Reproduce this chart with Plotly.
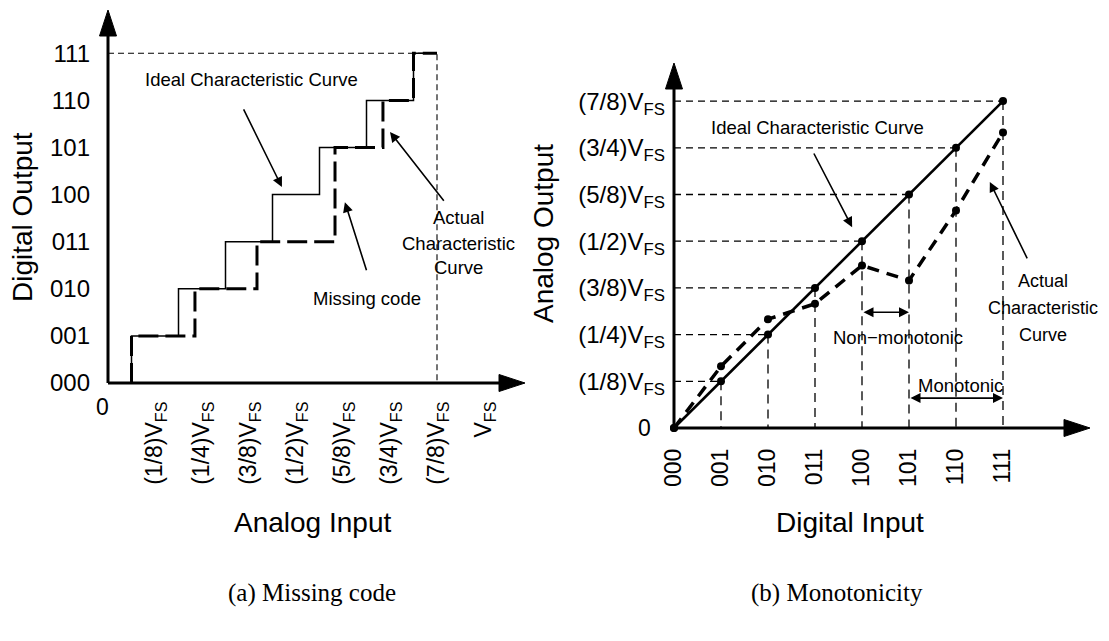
import plotly.graph_objects as go

# The page body has an 8px default margin: the figure is made 16px smaller and
# every reference pixel position is shifted by OFF.
OFF = 8
W, H = 1109 - 2 * OFF, 641 - 2 * OFF
SANS = "Liberation Sans, Arial, Helvetica, sans-serif"
SERIF = "Liberation Serif, Times New Roman, serif"

# ---------------- Panel (a): Missing code ----------------
out_codes = ["000", "001", "010", "011", "100", "101", "110", "111"]
out_code_vals = [0, 1, 2, 3, 4, 5, 6, 7]
in_tick_vals = [1, 2, 3, 4, 5, 6, 7, 8]          # units of VFS/8
in_tick_labels = ["(1/8)V<sub>FS</sub>", "(1/4)V<sub>FS</sub>", "(3/8)V<sub>FS</sub>",
                  "(1/2)V<sub>FS</sub>", "(5/8)V<sub>FS</sub>", "(3/4)V<sub>FS</sub>",
                  "(7/8)V<sub>FS</sub>", "V<sub>FS</sub>"]
ideal_edges = [0.5, 1.5, 2.5, 3.5, 4.5, 5.5, 6.5]
ideal_levels = [1, 2, 3, 4, 5, 6, 7]
actual_edges = [0.5, 1.85, 3.17, 4.83, 5.85, 6.5]
actual_levels = [1, 2, 3, 5, 6, 7]
a_end = 7

# ---------------- Panel (b): Monotonicity ----------------
dig_codes = ["000", "001", "010", "011", "100", "101", "110", "111"]
dig_vals = [0, 1, 2, 3, 4, 5, 6, 7]
ana_tick_vals = [1, 2, 3, 4, 5, 6, 7]
ana_tick_labels = ["(1/8)V<sub>FS</sub>", "(1/4)V<sub>FS</sub>", "(3/8)V<sub>FS</sub>",
                   "(1/2)V<sub>FS</sub>", "(5/8)V<sub>FS</sub>", "(3/4)V<sub>FS</sub>",
                   "(7/8)V<sub>FS</sub>"]
ideal_out = [0, 1, 2, 3, 4, 5, 6, 7]
actual_out = [0, 1.32, 2.33, 2.66, 3.48, 3.16, 4.66, 6.33]

# ---------------- geometry (reference pixels) ----------------
A = dict(x0=108 - OFF, ux=47.0, y0=383 - OFF, uy=47.1, xr=(-0.6, 9.2), yr=(-0.6, 7.96))
B = dict(x0=674 - OFF, ux=47.0, y0=428 - OFF, uy=46.7, xr=(-0.6, 8.9), yr=(-0.6, 8.0))


def px(x):
    return (x - OFF) / W


def py(y):
    return 1 - (y - OFF) / H


def dom(p):
    xd = [(p["x0"] + p["xr"][0] * p["ux"]) / W, (p["x0"] + p["xr"][1] * p["ux"]) / W]
    yd = [1 - (p["y0"] - p["yr"][0] * p["uy"]) / H, 1 - (p["y0"] - p["yr"][1] * p["uy"]) / H]
    return [max(0, min(1, v)) for v in xd], [max(0, min(1, v)) for v in yd]


def steps(edges, levels, end):
    xs, ys, prev = [], [], 0
    for e, l in zip(edges, levels):
        xs += [e, e]
        ys += [prev, l]
        prev = l
    xs.append(end)
    ys.append(prev)
    return xs, ys


fig = go.Figure()
BLACK = "black"


def axis_arrows(p, xref, yref, xtip_px, ytip_px):
    """axis lines + big filled triangles"""
    xtip = (xtip_px - OFF - p["x0"]) / p["ux"]
    ytip = (p["y0"] - (ytip_px - OFF)) / p["uy"]
    L, hw = 26, 8.5
    xb = xtip - L / p["ux"]
    yb = ytip - L / p["uy"]
    fig.add_trace(go.Scatter(x=[0, xb + 0.05], y=[0, 0], mode="lines", xaxis=xref, yaxis=yref,
                             line=dict(color=BLACK, width=3), hoverinfo="skip"))
    fig.add_trace(go.Scatter(x=[0, 0], y=[0, yb + 0.05], mode="lines", xaxis=xref, yaxis=yref,
                             line=dict(color=BLACK, width=3), hoverinfo="skip"))
    fig.add_trace(go.Scatter(x=[xb, xtip, xb, xb], y=[hw / p["uy"], 0, -hw / p["uy"], hw / p["uy"]],
                             mode="lines", fill="toself", fillcolor=BLACK, xaxis=xref, yaxis=yref,
                             line=dict(color=BLACK, width=1), hoverinfo="skip"))
    fig.add_trace(go.Scatter(x=[-hw / p["ux"], 0, hw / p["ux"], -hw / p["ux"]], y=[yb, ytip, yb, yb],
                             mode="lines", fill="toself", fillcolor=BLACK, xaxis=xref, yaxis=yref,
                             line=dict(color=BLACK, width=1), hoverinfo="skip"))


# ---------- Panel (a) traces ----------
fig.add_trace(go.Scatter(x=[0, a_end, a_end], y=[out_code_vals[-1], out_code_vals[-1], 0],
                         mode="lines", xaxis="x", yaxis="y",
                         line=dict(color=BLACK, width=1.1, dash="6px,4px"), hoverinfo="skip"))
ix, iy = steps(ideal_edges, ideal_levels, a_end)
fig.add_trace(go.Scatter(x=ix, y=iy, mode="lines", xaxis="x", yaxis="y",
                         line=dict(color=BLACK, width=1.5), hoverinfo="skip"))
ax_, ay_ = steps(actual_edges, actual_levels, a_end)
fig.add_trace(go.Scatter(x=ax_, y=ay_, mode="lines", xaxis="x", yaxis="y",
                         line=dict(color=BLACK, width=3, dash="20px,7px"), hoverinfo="skip"))
axis_arrows(A, "x", "y", 525, 10)

# ---------- Panel (b) traces ----------
for k, v in zip(dig_vals[1:], ideal_out[1:]):
    fig.add_trace(go.Scatter(x=[0, k], y=[v, v], mode="lines", xaxis="x2", yaxis="y2",
                             line=dict(color=BLACK, width=1.3, dash="7px,5px"), hoverinfo="skip"))
    fig.add_trace(go.Scatter(x=[k, k], y=[v, 0], mode="lines", xaxis="x2", yaxis="y2",
                             line=dict(color=BLACK, width=1.3, dash="9px,6px"), hoverinfo="skip"))
fig.add_trace(go.Scatter(x=dig_vals, y=ideal_out, mode="lines+markers", xaxis="x2", yaxis="y2",
                         line=dict(color=BLACK, width=2.6), marker=dict(color=BLACK, size=8),
                         cliponaxis=False, hoverinfo="skip"))
fig.add_trace(go.Scatter(x=dig_vals, y=actual_out, mode="lines+markers", xaxis="x2", yaxis="y2",
                         line=dict(color=BLACK, width=3.5, dash="12px,8px"),
                         marker=dict(color=BLACK, size=8), cliponaxis=False, hoverinfo="skip"))
axis_arrows(B, "x2", "y2", 1090, 63)

# ---------- axes ----------
xdA, ydA = dom(A)
xdB, ydB = dom(B)
xtickfont = dict(family=SANS, size=23, color=BLACK)
ytickfont = dict(family=SANS, size=24, color=BLACK)
common = dict(showgrid=False, zeroline=False, showline=False, ticks="",
              tickmode="array", fixedrange=True)

fig.update_layout(
    width=W, height=H, margin=dict(l=0, r=0, t=0, b=0),
    paper_bgcolor="white", plot_bgcolor="rgba(0,0,0,0)", showlegend=False,
    xaxis=dict(domain=xdA, range=list(A["xr"]), anchor="free", position=1 - A["y0"] / H,
               tickvals=in_tick_vals, ticktext=in_tick_labels, tickangle=-90,
               tickfont=xtickfont, ticklabelstandoff=13, **common),
    yaxis=dict(domain=ydA, range=list(A["yr"]), anchor="free", position=A["x0"] / W,
               tickvals=out_code_vals, ticktext=out_codes, tickfont=ytickfont,
               ticklabelstandoff=18, **common),
    xaxis2=dict(domain=xdB, range=list(B["xr"]), anchor="free", position=1 - B["y0"] / H,
                tickvals=dig_vals, ticktext=dig_codes, tickangle=-90,
                tickfont=xtickfont, ticklabelstandoff=15, **common),
    yaxis2=dict(domain=ydB, range=list(B["yr"]), anchor="free", position=B["x0"] / W,
                tickvals=ana_tick_vals, ticktext=ana_tick_labels, tickfont=ytickfont,
                ticklabelstandoff=9, **common),
)

annots = []


def txt(x, y, s, size=18.5, family=SANS, angle=0):
    """text placed at reference pixel centre (x, y)"""
    annots.append(dict(x=px(x), y=py(y), xref="paper", yref="paper", text=s, showarrow=False,
                       font=dict(family=family, size=size, color=BLACK), textangle=angle,
                       xanchor="center", yanchor="middle"))


def arrow(tip, tail, xref, yref, both=False):
    d = dict(x=tip[0], y=tip[1], ax=tail[0], ay=tail[1], xref=xref, yref=yref,
             axref=xref, ayref=yref, text="", showarrow=True, arrowhead=2,
             arrowsize=1.25, arrowwidth=1.6, arrowcolor=BLACK)
    if both:
        d.update(arrowside="end+start", startarrowhead=2, startarrowsize=1.25)
    annots.append(d)


# Panel (a) annotations
txt(251, 80, "Ideal Characteristic Curve")
arrow((3.70, 4.16), (2.87, 5.84), "x", "y")
txt(367, 298, "Missing code")
arrow((5.04, 3.84), (5.51, 2.36), "x", "y")
txt(458, 217, "Actual")
txt(458, 243, "Characteristic")
txt(458, 268, "Curve")
arrow((6.0, 5.33), (7.17, 3.84), "x", "y")
txt(102, 407, "0", size=23)

# Panel (b) annotations
txt(817, 127, "Ideal Characteristic Curve")
arrow((3.79, 4.30), (2.96, 5.91), "x2", "y2")
txt(1043, 281, "Actual", size=18)
txt(1043, 308, "Characteristic", size=18)
txt(1043, 335, "Curve", size=18)
arrow((6.72, 5.27), (7.53, 3.60), "x2", "y2")
txt(898, 337, "Non\u2212monotonic")
arrow((5, 2.48), (4, 2.48), "x2", "y2", both=True)
txt(960, 385, "Monotonic")
arrow((7, 0.64), (5, 0.64), "x2", "y2", both=True)
txt(645, 428, "0", size=23)

# axis titles and captions
txt(22, 217, "Digital Output", size=28, angle=-90)
txt(312, 522, "Analog Input", size=28)
txt(544, 234, "Analog Output", size=28, angle=-90)
txt(850, 522, "Digital Input", size=28)
txt(312, 593, "(a) Missing code", size=25, family=SERIF)
txt(837, 593, "(b) Monotonicity", size=25, family=SERIF)

fig.update_layout(annotations=annots)
fig.write_html("out.html")
